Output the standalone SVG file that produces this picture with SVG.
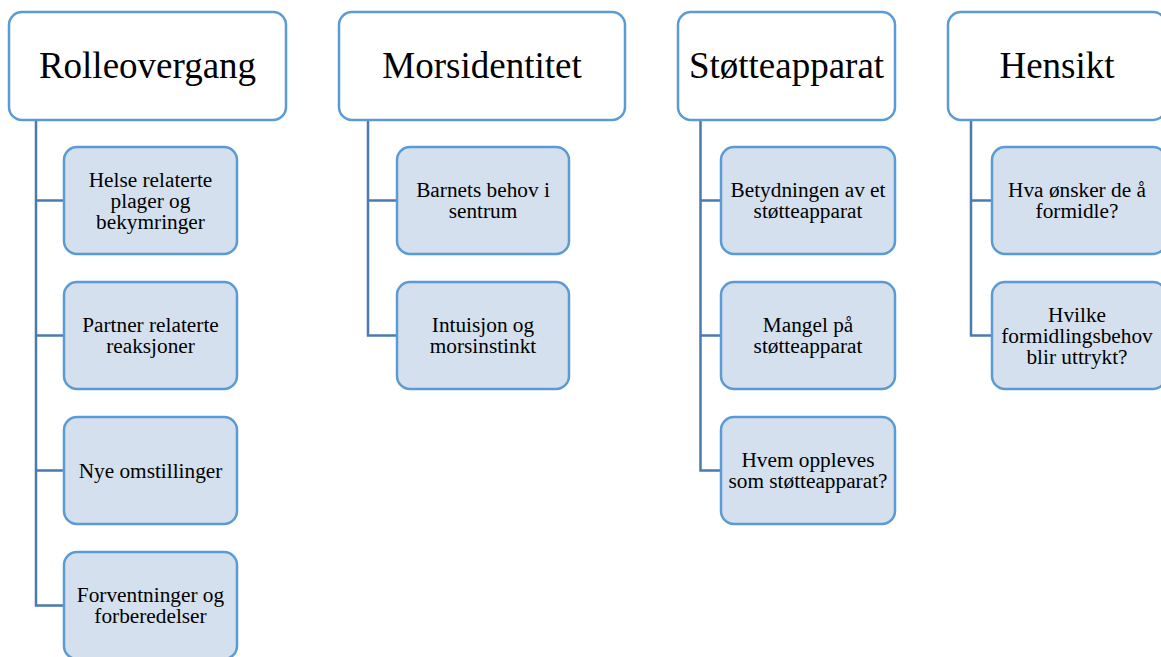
<svg xmlns="http://www.w3.org/2000/svg" width="1161" height="657" viewBox="0 0 1161 657" font-family="Liberation Serif, Times New Roman, serif">
<style>
.hdr{fill:#ffffff;stroke:#5B9BD5;stroke-width:2.5}
.ch{fill:#D5E0EE;stroke:#5B9BD5;stroke-width:2.5}
.ht{font-size:37px;fill:#000;text-anchor:middle}
.ct{font-size:21.3px;fill:#000;text-anchor:middle}
.con{fill:none;stroke:#4A7AAF;stroke-width:2.5}
</style>
<rect width="1161" height="657" fill="#ffffff"/>
<g id="connectors">
<path class="con" d="M36,120 V605.5 H64 M36,200.5 H64 M36,335.5 H64 M36,470.5 H64"/>
<path class="con" d="M368,120 V335.5 H397 M368,200.5 H397"/>
<path class="con" d="M700.5,120 V470.5 H721 M700.5,200.5 H721 M700.5,335.5 H721"/>
<path class="con" d="M971,120 V335.5 H992 M971,200.5 H992"/>
</g>
<g id="rolleovergang">
<rect class="hdr" x="9" y="12" width="277" height="108" rx="13"/>
<text class="ht" x="147.5" y="78">Rolleovergang</text>
</g>
<g id="helse">
<rect class="ch" x="64" y="147" width="173" height="107" rx="13"/>
<text class="ct" x="150.5" y="186.5">Helse relaterte</text>
<text class="ct" x="150.5" y="207.5">plager og</text>
<text class="ct" x="150.5" y="228.5">bekymringer</text>
</g>
<g id="partner">
<rect class="ch" x="64" y="282" width="173" height="107" rx="13"/>
<text class="ct" x="150.5" y="332">Partner relaterte</text>
<text class="ct" x="150.5" y="353">reaksjoner</text>
</g>
<g id="nye">
<rect class="ch" x="64" y="417" width="173" height="107" rx="13"/>
<text class="ct" x="150.5" y="477.5">Nye omstillinger</text>
</g>
<g id="forventninger">
<rect class="ch" x="64" y="552" width="173" height="107" rx="13"/>
<text class="ct" x="150.5" y="602">Forventninger og</text>
<text class="ct" x="150.5" y="623">forberedelser</text>
</g>
<g id="morsidentitet">
<rect class="hdr" x="339" y="12" width="286" height="108" rx="13"/>
<text class="ht" x="482" y="78">Morsidentitet</text>
</g>
<g id="barnets">
<rect class="ch" x="397" y="147" width="172" height="107" rx="13"/>
<text class="ct" x="483" y="197">Barnets behov i</text>
<text class="ct" x="483" y="218">sentrum</text>
</g>
<g id="intuisjon">
<rect class="ch" x="397" y="282" width="172" height="107" rx="13"/>
<text class="ct" x="483" y="332">Intuisjon og</text>
<text class="ct" x="483" y="353">morsinstinkt</text>
</g>
<g id="stotteapparat">
<rect class="hdr" x="678" y="12" width="217" height="108" rx="13"/>
<text class="ht" x="786.5" y="78">Støtteapparat</text>
</g>
<g id="betydningen">
<rect class="ch" x="721" y="147" width="174" height="107" rx="13"/>
<text class="ct" x="808" y="197">Betydningen av et</text>
<text class="ct" x="808" y="218">støtteapparat</text>
</g>
<g id="mangel">
<rect class="ch" x="721" y="282" width="174" height="107" rx="13"/>
<text class="ct" x="808" y="332">Mangel på</text>
<text class="ct" x="808" y="353">støtteapparat</text>
</g>
<g id="hvem">
<rect class="ch" x="721" y="417" width="174" height="107" rx="13"/>
<text class="ct" x="808" y="467">Hvem oppleves</text>
<text class="ct" x="808" y="488">som støtteapparat?</text>
</g>
<g id="hensikt">
<rect class="hdr" x="948" y="12" width="218" height="108" rx="13"/>
<text class="ht" x="1057" y="78">Hensikt</text>
</g>
<g id="hva">
<rect class="ch" x="992" y="147" width="174" height="107" rx="13"/>
<text class="ct" x="1077" y="197">Hva ønsker de å</text>
<text class="ct" x="1077" y="218">formidle?</text>
</g>
<g id="hvilke">
<rect class="ch" x="992" y="282" width="174" height="107" rx="13"/>
<text class="ct" x="1077" y="321.5">Hvilke</text>
<text class="ct" x="1077" y="342.5">formidlingsbehov</text>
<text class="ct" x="1077" y="363.5">blir uttrykt?</text>
</g>
</svg>
